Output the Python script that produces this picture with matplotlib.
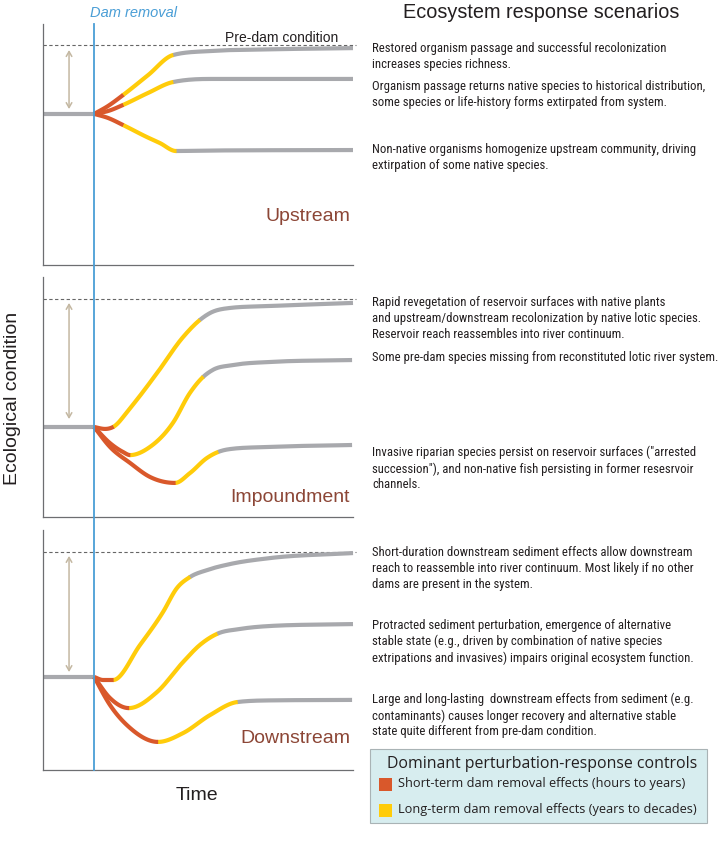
import numpy as np
import matplotlib
matplotlib.use("Agg")
import matplotlib.pyplot as plt
from matplotlib import font_manager as fm
from matplotlib.lines import Line2D
from matplotlib.patches import Rectangle
from matplotlib.transforms import blended_transform_factory

# ---- data (time 0-100, ecological condition 0-100 per panel) ----
DAM_T = 16.5
PANELS = ["Upstream", "Impoundment", "Downstream"]
BASELINE = [62.7, 37.5, 38.75]
PRE_DAM = [91.3, 90.8, 90.8]
ARROW = [(64.7, 89.2), (40.8, 89.2), (40.8, 89.2)]

UP_T = [[16.5, 21.0, 25.8, 33.9, 41.9, 53.9, 70.0, 100.0],
        [16.5, 21.0, 25.8, 33.9, 41.9, 53.9, 100.0],
        [16.5, 21.0, 25.8, 33.5, 37.7, 42.9, 53.9, 100.0]]
UP_C = [[62.7, 66.0, 70.5, 78.8, 87.1, 88.8, 89.4, 90.0],
        [62.7, 63.9, 66.4, 71.4, 75.9, 77.2, 77.2],
        [62.7, 61.0, 58.1, 53.1, 50.6, 47.3, 47.5, 47.7]]
UP_PHASE = [(25.8, 41.9), (25.8, 41.9), (25.8, 42.9)]

IMP_T = [[16.5, 20.0, 22.6, 28.1, 36.8, 45.2, 50.6, 53.9, 60.3, 73.2, 100.0],
         [16.5, 21.6, 25.8, 28.1, 34.5, 41.9, 47.4, 51.6, 54.8, 61.3, 73.2, 99.7],
         [16.5, 21.6, 28.1, 34.5, 42.6, 47.4, 52.9, 56.5, 60.3, 73.2, 99.7]]
IMP_C = [[37.5, 36.7, 37.5, 45.4, 60.0, 75.0, 82.1, 85.0, 87.1, 87.9, 89.2],
         [37.5, 30.8, 27.1, 25.8, 29.2, 39.2, 51.7, 58.3, 61.3, 63.3, 64.6, 65.4],
         [37.5, 29.2, 22.5, 16.7, 14.2, 18.3, 24.6, 27.1, 28.3, 29.2, 30.0]]
IMP_PHASE = [(22.6, 50.6), (28.1, 51.6), (42.6, 56.5)]

DOWN_T = [[16.5, 19.4, 22.6, 31.3, 38.7, 43.2, 47.4, 52.9, 60.3, 73.2, 100.0],
          [16.5, 21.6, 27.7, 36.8, 45.2, 50.6, 56.1, 63.5, 73.2, 100.0],
          [16.5, 21.6, 28.1, 37.1, 45.2, 53.9, 62.6, 73.2, 99.7]]
DOWN_C = [[38.75, 37.5, 37.5, 52.1, 65.8, 75.8, 80.4, 83.3, 85.8, 88.3, 90.4],
          [38.75, 30.0, 25.8, 32.5, 45.0, 52.1, 56.7, 58.75, 60.0, 60.8],
          [38.75, 27.1, 17.5, 11.7, 15.4, 22.9, 28.3, 29.0, 29.2]]
DOWN_PHASE = [(22.6, 47.4), (27.7, 56.1), (37.1, 62.6)]

CURVES_T = [UP_T, IMP_T, DOWN_T]
CURVES_C = [UP_C, IMP_C, DOWN_C]
PHASES = [UP_PHASE, IMP_PHASE, DOWN_PHASE]

SCENARIOS = [
    ["Restored organism passage and successful recolonization\nincreases species richness.",
     "Organism passage returns native species to historical distribution,\nsome species or life-history forms extirpated from system.",
     "Non-native organisms homogenize upstream community, driving\nextirpation of some native species."],
    ["Rapid revegetation of reservoir surfaces with native plants\nand upstream/downstream recolonization by native lotic species.\nReservoir reach reassembles into river continuum.",
     "Some pre-dam species missing from reconstituted lotic river system.",
     "Invasive riparian species persist on reservoir surfaces (\"arrested\nsuccession\"), and non-native fish persisting in former resesrvoir\nchannels."],
    ["Short-duration downstream sediment effects allow downstream\nreach to reassemble into river continuum. Most likely if no other\ndams are present in the system.",
     "Protracted sediment perturbation, emergence of alternative\nstable state (e.g., driven by combination of native species\nextripations and invasives) impairs original ecosystem function.",
     "Large and long-lasting  downstream effects from sediment (e.g.\ncontaminants) causes longer recovery and alternative stable\nstate quite different from pre-dam condition."],
]
LEGEND_LABELS = ["Short-term dam removal effects (hours to years)",
                 "Long-term dam removal effects (years to decades)"]

# ---- style ----
RED = "#d9582b"
YELLOW = "#ffcc0a"
GRAY = "#a8a9ad"
BLUE = "#4a9ed6"
BROWN = "#8c4636"
TAN = "#c4b8a2"
AXC = "#6d6e71"
TXT = "#231f20"
LW = 3.0
W, H = 720, 842

plt.rcParams["font.family"] = ["Liberation Sans", "DejaVu Sans"]

avail = {f.name for f in fm.fontManager.ttflist}
BODY = "Liberation Sans"
for cand in ["Liberation Sans Narrow", "Arial Narrow", "Roboto Condensed"]:
    if cand in avail:
        BODY = cand
        break


def smooth(x, y, n=400):
    # cubic Hermite through the read points: Catmull-Rom slopes, limited
    # so the curve does not overshoot, flat at local extrema
    x = np.asarray(x, float)
    y = np.asarray(y, float)
    h = np.diff(x)
    d = np.diff(y) / h
    m = np.zeros_like(y)
    for k in range(1, len(x) - 1):
        if d[k - 1] * d[k] > 0:
            cr = (d[k - 1] * h[k] + d[k] * h[k - 1]) / (h[k - 1] + h[k])
            lim = 2.5 * min(abs(d[k - 1]), abs(d[k]))
            m[k] = np.sign(cr) * min(abs(cr), lim)
    m[0] = d[0]
    m[-1] = d[-1]
    xs = np.linspace(x[0], x[-1], n)
    i = np.clip(np.searchsorted(x, xs) - 1, 0, len(h) - 1)
    t = (xs - x[i]) / h[i]
    ys = ((2 * t**3 - 3 * t**2 + 1) * y[i] + (t**3 - 2 * t**2 + t) * h[i] * m[i]
          + (-2 * t**3 + 3 * t**2) * y[i + 1] + (t**3 - t**2) * h[i] * m[i + 1])
    return xs, ys


def fx(x):
    return x / W


def fy(y):
    return 1 - y / H


fig = plt.figure(figsize=(7.2, 8.42), dpi=100)
renderer = fig.canvas.get_renderer()

# fit body font so that a known line has the reference width
probe = fig.text(0, 0, "Restored organism passage and successful recolonization",
                 family=BODY, fontsize=10)
pw = probe.get_window_extent(renderer).width
probe.remove()
BSIZE = 10 * 291.0 / pw
p1 = fig.text(0, 0, "Ag", family=BODY, fontsize=BSIZE, linespacing=1.0)
p2 = fig.text(0, 0, "Ag\nAg", family=BODY, fontsize=BSIZE, linespacing=1.0)
step = p2.get_window_extent(renderer).height - p1.get_window_extent(renderer).height
p1.remove()
p2.remove()
BLS = 16.6 / step

# panel boxes in pixels: (top, bottom)
boxes = [(24, 265), (277, 517), (530, 770)]
axes = []
for p, (top, bot) in enumerate(boxes):
    ax = fig.add_axes([fx(43), fy(bot), fx(353) - fx(43), (bot - top) / H])
    ax.set_xlim(0, 100)
    ax.set_ylim(0, 100)
    for s in ["top", "right"]:
        ax.spines[s].set_visible(False)
    for s in ["left", "bottom"]:
        ax.spines[s].set_color(AXC)
        ax.spines[s].set_linewidth(0.9)
    ax.set_xticks([])
    ax.set_yticks([])
    ax.patch.set_alpha(0)

    ax.plot([0, 101], [PRE_DAM[p]] * 2, color="#666666", lw=0.8,
            dashes=(3, 2.2), clip_on=False)
    ax.annotate("", xy=(8.4, ARROW[p][1]), xytext=(8.4, ARROW[p][0]),
                arrowprops=dict(arrowstyle="<->,head_length=0.35,head_width=0.2",
                                color=TAN, lw=1.1, shrinkA=0, shrinkB=0))
    ax.plot([0, DAM_T], [BASELINE[p]] * 2, color=GRAY, lw=LW,
            solid_capstyle="butt", clip_on=False)

    for tt, cc, (r_end, y_end) in zip(CURVES_T[p], CURVES_C[p], PHASES[p]):
        xs, ys = smooth(tt, cc)
        seg_red = xs <= r_end + 0.2
        seg_yel = (xs >= r_end - 0.2) & (xs <= y_end + 0.2)
        seg_gry = xs >= y_end - 0.2
        ax.plot(xs[seg_gry], ys[seg_gry], color=GRAY, lw=LW,
                solid_capstyle="butt", clip_on=False)
        ax.plot(xs[seg_yel], ys[seg_yel], color=YELLOW, lw=LW,
                solid_capstyle="butt", clip_on=False)
        ax.plot(xs[seg_red], ys[seg_red], color=RED, lw=LW,
                solid_capstyle="butt", clip_on=False)

    label_y = [20.3, 8.3, 13.3][p]
    ax.text(99, label_y, PANELS[p], color=BROWN, fontsize=14,
            ha="right", va="center")
    axes.append(ax)

axes[0].text(77.1, 94.3, "Pre-dam condition", fontsize=10, color=TXT,
             ha="center", va="center")

# dam removal line across all panels
tr = blended_transform_factory(axes[0].transData, fig.transFigure)
fig.add_artist(Line2D([DAM_T, DAM_T], [fy(24), fy(770)], transform=tr,
                      color=BLUE, lw=1.3))
fig.text(fx(134), fy(13), "Dam removal", color=BLUE, fontsize=10.5,
         style="italic", ha="center", va="center")

fig.text(fx(13), fy(398), "Ecological condition", rotation=90, fontsize=14,
         ha="center", va="center", color=TXT)
fig.text(fx(197), fy(795), "Time", fontsize=14, ha="center", va="center",
         color=TXT)

# scenario descriptions
fig.text(fx(541), fy(12), "Ecosystem response scenarios", fontsize=14.3,
         ha="center", va="center", color=TXT)
first_line_y = [[48, 86, 149], [302, 357, 452], [552, 625, 699]]
for p in range(3):
    for txt, yy in zip(SCENARIOS[p], first_line_y[p]):
        fig.text(fx(372), fy(yy - 6), txt, family=[BODY, "DejaVu Sans"],
                 fontsize=BSIZE, ha="left", va="top", linespacing=BLS,
                 color=TXT)

# legend box
fig.add_artist(Rectangle((fx(370), fy(823)), fx(707) - fx(370),
                         (823 - 749) / H, transform=fig.transFigure,
                         facecolor="#d7edef", edgecolor="#a9b3b5", lw=0.8))
fig.text(fx(387), fy(764), "Dominant perturbation-response controls",
         family=["Open Sans", "DejaVu Sans"], fontsize=11.4, ha="left",
         va="center", color=TXT)
for yy, col, lab in zip([784, 810], [RED, YELLOW], LEGEND_LABELS):
    fig.add_artist(Rectangle((fx(379), fy(yy + 6.5)), 13 / W, 13 / H,
                             transform=fig.transFigure, facecolor=col,
                             edgecolor="none"))
    fig.text(fx(398), fy(yy), lab, family=["Open Sans", "DejaVu Sans"],
             fontsize=9.2, ha="left", va="center", color=TXT)

fig.savefig("out.png", dpi=100)
